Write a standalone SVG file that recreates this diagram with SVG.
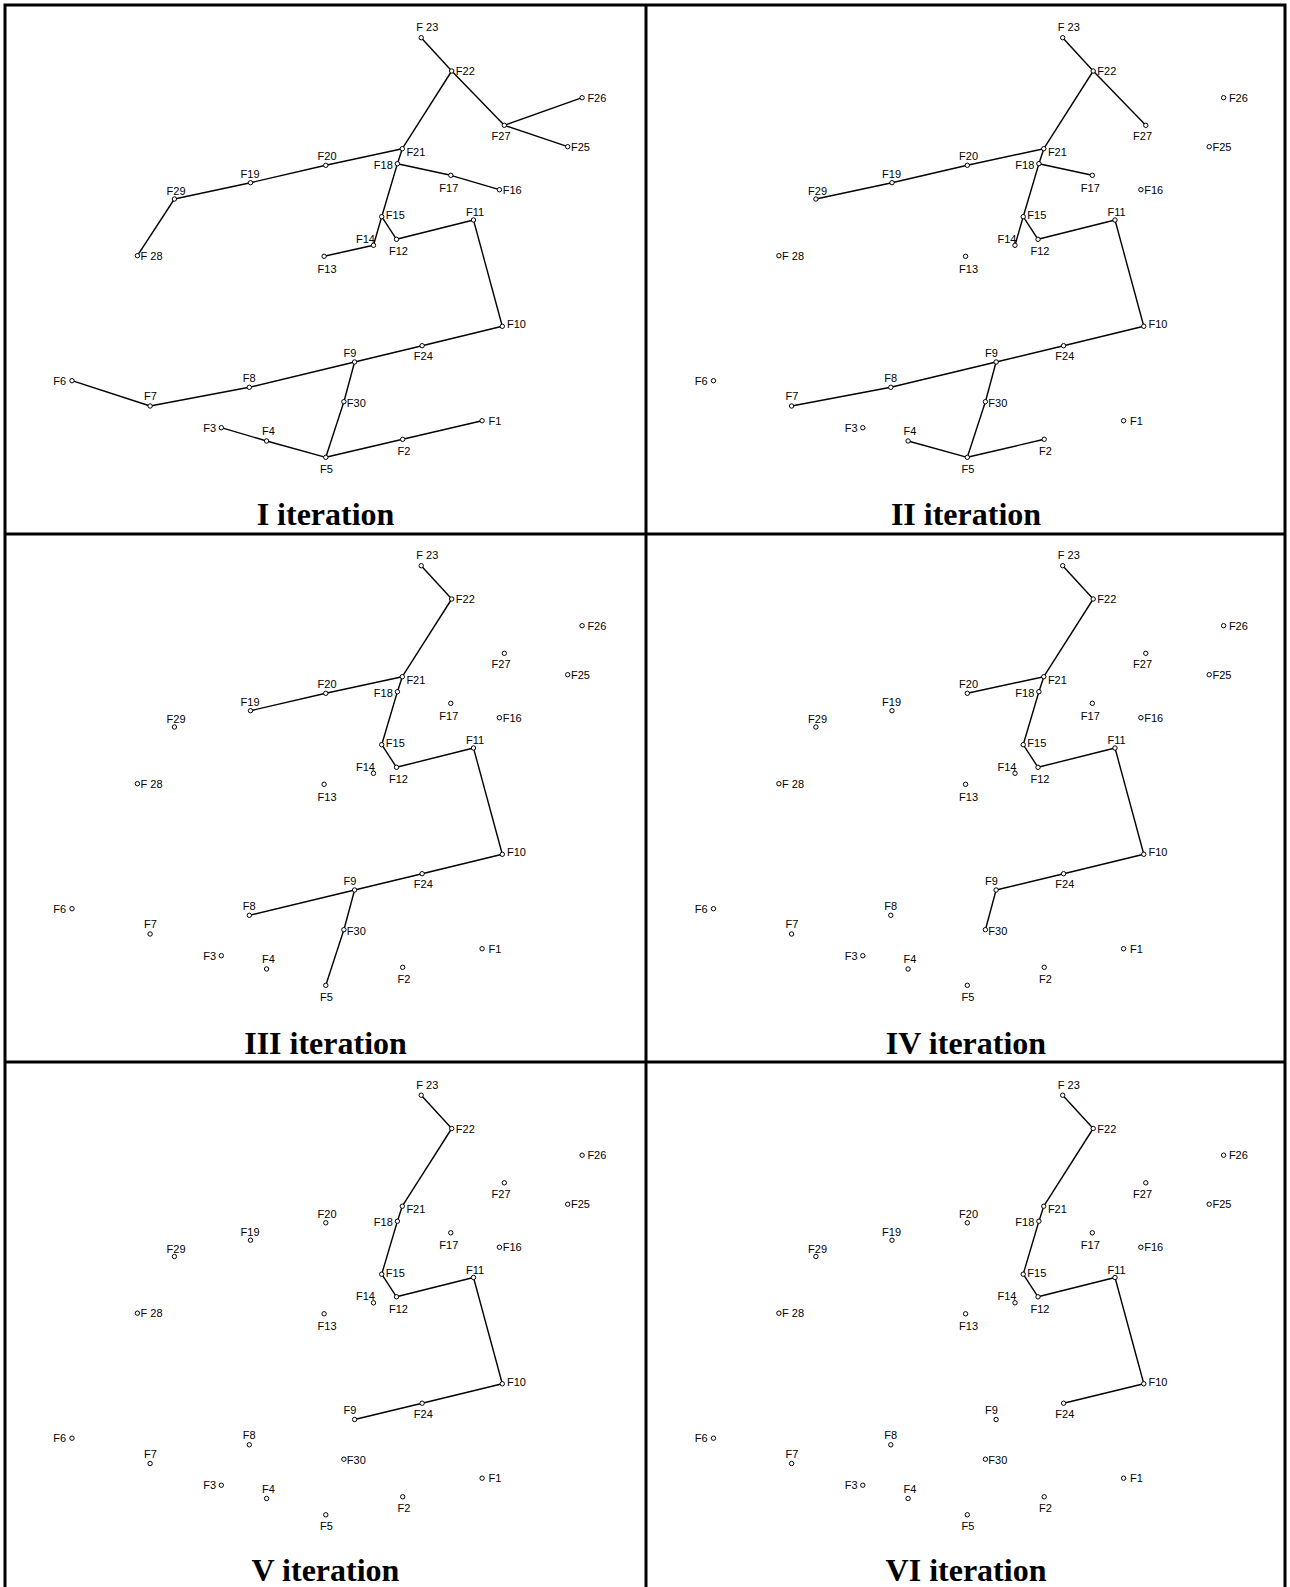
<svg xmlns="http://www.w3.org/2000/svg" width="1290" height="1587" viewBox="0 0 1290 1587">
<style>
.bg{fill:#fff}
.frame{fill:none;stroke:#000;stroke-width:3}
.n circle{fill:#fff;stroke:#000;stroke-width:1}
.n text{font-family:"Liberation Sans",Arial,sans-serif;font-size:11px;fill:#000}
.n text.l{text-anchor:end}
.c path{fill:none;stroke:#000;stroke-width:1.4}
.title{font-family:"Liberation Serif","Times New Roman",serif;font-weight:bold;font-size:32px;text-anchor:middle;fill:#000}
</style>
<rect class="bg" x="0" y="0" width="1290" height="1587"/>
<g id="frame">
<path class="frame" d="M5 1590V5H1285V1590"/>
<path class="frame" d="M646 5V1590"/>
<path class="frame" d="M5 534H1285"/>
<path class="frame" d="M5 1062H1285"/>
</g>

<!-- Panel I -->
<g id="panel-1">
<g id="p1-connectors" class="c">
<path d="M421.2 37.7L451.7 71"/>
<path d="M451.7 71L504.3 125.3"/>
<path d="M504.3 125.3L582.1 97.7"/>
<path d="M504.3 125.3L567.7 146.7"/>
<path d="M451.7 71L402.3 148.7"/>
<path d="M402.3 148.7L325.8 165.3"/>
<path d="M325.8 165.3L250.5 182.7"/>
<path d="M250.5 182.7L174.4 199"/>
<path d="M174.4 199L137.4 255.7"/>
<path d="M402.3 148.7L397.4 163.7"/>
<path d="M397.4 163.7L450.8 175.3"/>
<path d="M450.8 175.3L499.4 189.7"/>
<path d="M397.4 163.7L381.7 216.7"/>
<path d="M381.7 216.7L373.5 245.3"/>
<path d="M373.5 245.3L324.1 256.3"/>
<path d="M381.7 216.7L396.5 239.3"/>
<path d="M396.5 239.3L473.5 220"/>
<path d="M473.5 220L502.3 326.3"/>
<path d="M502.3 326.3L422.1 345.7"/>
<path d="M422.1 345.7L354.6 362"/>
<path d="M354.6 362L249.3 387.3"/>
<path d="M249.3 387.3L150.1 406"/>
<path d="M150.1 406L72 380.7"/>
<path d="M354.6 362L343.9 401.7"/>
<path d="M343.9 401.7L325.8 457.3"/>
<path d="M325.8 457.3L266.6 441"/>
<path d="M266.6 441L221.3 427.7"/>
<path d="M325.8 457.3L402.7 439.3"/>
<path d="M402.7 439.3L482.1 420.7"/>
</g>
<g id="p1-F1" class="n"><circle cx="482.1" cy="420.7" r="2.2"/><text x="488.5" y="424.5">F1</text></g>
<g id="p1-F2" class="n"><circle cx="402.7" cy="439.3" r="2.2"/><text x="397.5" y="454.5">F2</text></g>
<g id="p1-F3" class="n"><circle cx="221.3" cy="427.7" r="2.2"/><text class="l" x="216" y="431.5">F3</text></g>
<g id="p1-F4" class="n"><circle cx="266.6" cy="441" r="2.2"/><text x="262" y="435">F4</text></g>
<g id="p1-F5" class="n"><circle cx="325.8" cy="457.3" r="2.2"/><text x="320" y="472.5">F5</text></g>
<g id="p1-F6" class="n"><circle cx="72" cy="380.7" r="2.2"/><text class="l" x="66" y="384.5">F6</text></g>
<g id="p1-F7" class="n"><circle cx="150.1" cy="406" r="2.2"/><text x="144" y="400">F7</text></g>
<g id="p1-F8" class="n"><circle cx="249.3" cy="387.3" r="2.2"/><text x="242.7" y="381.7">F8</text></g>
<g id="p1-F9" class="n"><circle cx="354.6" cy="362" r="2.2"/><text x="343.5" y="356.7">F9</text></g>
<g id="p1-F10" class="n"><circle cx="502.3" cy="326.3" r="2.2"/><text x="507" y="328">F10</text></g>
<g id="p1-F11" class="n"><circle cx="473.5" cy="220" r="2.2"/><text x="466" y="216">F11</text></g>
<g id="p1-F12" class="n"><circle cx="396.5" cy="239.3" r="2.2"/><text x="389" y="255">F12</text></g>
<g id="p1-F13" class="n"><circle cx="324.1" cy="256.3" r="2.2"/><text x="317.6" y="272.7">F13</text></g>
<g id="p1-F14" class="n"><circle cx="373.5" cy="245.3" r="2.2"/><text x="356" y="242.5">F14</text></g>
<g id="p1-F15" class="n"><circle cx="381.7" cy="216.7" r="2.2"/><text x="385.8" y="219">F15</text></g>
<g id="p1-F16" class="n"><circle cx="499.4" cy="189.7" r="2.2"/><text x="502.7" y="193.5">F16</text></g>
<g id="p1-F17" class="n"><circle cx="450.8" cy="175.3" r="2.2"/><text x="439.3" y="191.5">F17</text></g>
<g id="p1-F18" class="n"><circle cx="397.4" cy="163.7" r="2.2"/><text class="l" x="392.8" y="168.5">F18</text></g>
<g id="p1-F19" class="n"><circle cx="250.5" cy="182.7" r="2.2"/><text x="240.6" y="178">F19</text></g>
<g id="p1-F20" class="n"><circle cx="325.8" cy="165.3" r="2.2"/><text x="317.6" y="160">F20</text></g>
<g id="p1-F21" class="n"><circle cx="402.3" cy="148.7" r="2.2"/><text x="406.4" y="155.5">F21</text></g>
<g id="p1-F22" class="n"><circle cx="451.7" cy="71" r="2.2"/><text x="455.8" y="75">F22</text></g>
<g id="p1-F23" class="n"><circle cx="421.2" cy="37.7" r="2.2"/><text x="416.3" y="31">F 23</text></g>
<g id="p1-F24" class="n"><circle cx="422.1" cy="345.7" r="2.2"/><text x="413.8" y="360">F24</text></g>
<g id="p1-F25" class="n"><circle cx="567.7" cy="146.7" r="2.2"/><text x="571" y="150.5">F25</text></g>
<g id="p1-F26" class="n"><circle cx="582.1" cy="97.7" r="2.2"/><text x="587.4" y="101.5">F26</text></g>
<g id="p1-F27" class="n"><circle cx="504.3" cy="125.3" r="2.2"/><text x="491.6" y="140">F27</text></g>
<g id="p1-F28" class="n"><circle cx="137.4" cy="255.7" r="2.2"/><text x="140.5" y="259.5">F 28</text></g>
<g id="p1-F29" class="n"><circle cx="174.4" cy="199" r="2.2"/><text x="166.6" y="195">F29</text></g>
<g id="p1-F30" class="n"><circle cx="343.9" cy="401.7" r="2.2"/><text x="346.8" y="406.5">F30</text></g>
</g>
<text class="title" x="325.5" y="525">I iteration</text>

<!-- Panel II -->
<g id="panel-2" transform="translate(641.5,0)">
<g id="p2-connectors" class="c">
<path d="M421.2 37.7L451.7 71"/>
<path d="M451.7 71L504.3 125.3"/>
<path d="M451.7 71L402.3 148.7"/>
<path d="M402.3 148.7L325.8 165.3"/>
<path d="M325.8 165.3L250.5 182.7"/>
<path d="M250.5 182.7L174.4 199"/>
<path d="M402.3 148.7L397.4 163.7"/>
<path d="M397.4 163.7L450.8 175.3"/>
<path d="M397.4 163.7L381.7 216.7"/>
<path d="M381.7 216.7L373.5 245.3"/>
<path d="M381.7 216.7L396.5 239.3"/>
<path d="M396.5 239.3L473.5 220"/>
<path d="M473.5 220L502.3 326.3"/>
<path d="M502.3 326.3L422.1 345.7"/>
<path d="M422.1 345.7L354.6 362"/>
<path d="M354.6 362L249.3 387.3"/>
<path d="M249.3 387.3L150.1 406"/>
<path d="M354.6 362L343.9 401.7"/>
<path d="M343.9 401.7L325.8 457.3"/>
<path d="M325.8 457.3L266.6 441"/>
<path d="M325.8 457.3L402.7 439.3"/>
</g>
<g id="p2-F1" class="n"><circle cx="482.1" cy="420.7" r="2.2"/><text x="488.5" y="424.5">F1</text></g>
<g id="p2-F2" class="n"><circle cx="402.7" cy="439.3" r="2.2"/><text x="397.5" y="454.5">F2</text></g>
<g id="p2-F3" class="n"><circle cx="221.3" cy="427.7" r="2.2"/><text class="l" x="216" y="431.5">F3</text></g>
<g id="p2-F4" class="n"><circle cx="266.6" cy="441" r="2.2"/><text x="262" y="435">F4</text></g>
<g id="p2-F5" class="n"><circle cx="325.8" cy="457.3" r="2.2"/><text x="320" y="472.5">F5</text></g>
<g id="p2-F6" class="n"><circle cx="72" cy="380.7" r="2.2"/><text class="l" x="66" y="384.5">F6</text></g>
<g id="p2-F7" class="n"><circle cx="150.1" cy="406" r="2.2"/><text x="144" y="400">F7</text></g>
<g id="p2-F8" class="n"><circle cx="249.3" cy="387.3" r="2.2"/><text x="242.7" y="381.7">F8</text></g>
<g id="p2-F9" class="n"><circle cx="354.6" cy="362" r="2.2"/><text x="343.5" y="356.7">F9</text></g>
<g id="p2-F10" class="n"><circle cx="502.3" cy="326.3" r="2.2"/><text x="507" y="328">F10</text></g>
<g id="p2-F11" class="n"><circle cx="473.5" cy="220" r="2.2"/><text x="466" y="216">F11</text></g>
<g id="p2-F12" class="n"><circle cx="396.5" cy="239.3" r="2.2"/><text x="389" y="255">F12</text></g>
<g id="p2-F13" class="n"><circle cx="324.1" cy="256.3" r="2.2"/><text x="317.6" y="272.7">F13</text></g>
<g id="p2-F14" class="n"><circle cx="373.5" cy="245.3" r="2.2"/><text x="356" y="242.5">F14</text></g>
<g id="p2-F15" class="n"><circle cx="381.7" cy="216.7" r="2.2"/><text x="385.8" y="219">F15</text></g>
<g id="p2-F16" class="n"><circle cx="499.4" cy="189.7" r="2.2"/><text x="502.7" y="193.5">F16</text></g>
<g id="p2-F17" class="n"><circle cx="450.8" cy="175.3" r="2.2"/><text x="439.3" y="191.5">F17</text></g>
<g id="p2-F18" class="n"><circle cx="397.4" cy="163.7" r="2.2"/><text class="l" x="392.8" y="168.5">F18</text></g>
<g id="p2-F19" class="n"><circle cx="250.5" cy="182.7" r="2.2"/><text x="240.6" y="178">F19</text></g>
<g id="p2-F20" class="n"><circle cx="325.8" cy="165.3" r="2.2"/><text x="317.6" y="160">F20</text></g>
<g id="p2-F21" class="n"><circle cx="402.3" cy="148.7" r="2.2"/><text x="406.4" y="155.5">F21</text></g>
<g id="p2-F22" class="n"><circle cx="451.7" cy="71" r="2.2"/><text x="455.8" y="75">F22</text></g>
<g id="p2-F23" class="n"><circle cx="421.2" cy="37.7" r="2.2"/><text x="416.3" y="31">F 23</text></g>
<g id="p2-F24" class="n"><circle cx="422.1" cy="345.7" r="2.2"/><text x="413.8" y="360">F24</text></g>
<g id="p2-F25" class="n"><circle cx="567.7" cy="146.7" r="2.2"/><text x="571" y="150.5">F25</text></g>
<g id="p2-F26" class="n"><circle cx="582.1" cy="97.7" r="2.2"/><text x="587.4" y="101.5">F26</text></g>
<g id="p2-F27" class="n"><circle cx="504.3" cy="125.3" r="2.2"/><text x="491.6" y="140">F27</text></g>
<g id="p2-F28" class="n"><circle cx="137.4" cy="255.7" r="2.2"/><text x="140.5" y="259.5">F 28</text></g>
<g id="p2-F29" class="n"><circle cx="174.4" cy="199" r="2.2"/><text x="166.6" y="195">F29</text></g>
<g id="p2-F30" class="n"><circle cx="343.9" cy="401.7" r="2.2"/><text x="346.8" y="406.5">F30</text></g>
</g>
<text class="title" x="966" y="525">II iteration</text>

<!-- Panel III -->
<g id="panel-3" transform="translate(0,528)">
<g id="p3-connectors" class="c">
<path d="M421.2 37.7L451.7 71"/>
<path d="M451.7 71L402.3 148.7"/>
<path d="M402.3 148.7L325.8 165.3"/>
<path d="M325.8 165.3L250.5 182.7"/>
<path d="M402.3 148.7L397.4 163.7"/>
<path d="M397.4 163.7L381.7 216.7"/>
<path d="M381.7 216.7L396.5 239.3"/>
<path d="M396.5 239.3L473.5 220"/>
<path d="M473.5 220L502.3 326.3"/>
<path d="M502.3 326.3L422.1 345.7"/>
<path d="M422.1 345.7L354.6 362"/>
<path d="M354.6 362L249.3 387.3"/>
<path d="M354.6 362L343.9 401.7"/>
<path d="M343.9 401.7L325.8 457.3"/>
</g>
<g id="p3-F1" class="n"><circle cx="482.1" cy="420.7" r="2.2"/><text x="488.5" y="424.5">F1</text></g>
<g id="p3-F2" class="n"><circle cx="402.7" cy="439.3" r="2.2"/><text x="397.5" y="454.5">F2</text></g>
<g id="p3-F3" class="n"><circle cx="221.3" cy="427.7" r="2.2"/><text class="l" x="216" y="431.5">F3</text></g>
<g id="p3-F4" class="n"><circle cx="266.6" cy="441" r="2.2"/><text x="262" y="435">F4</text></g>
<g id="p3-F5" class="n"><circle cx="325.8" cy="457.3" r="2.2"/><text x="320" y="472.5">F5</text></g>
<g id="p3-F6" class="n"><circle cx="72" cy="380.7" r="2.2"/><text class="l" x="66" y="384.5">F6</text></g>
<g id="p3-F7" class="n"><circle cx="150.1" cy="406" r="2.2"/><text x="144" y="400">F7</text></g>
<g id="p3-F8" class="n"><circle cx="249.3" cy="387.3" r="2.2"/><text x="242.7" y="381.7">F8</text></g>
<g id="p3-F9" class="n"><circle cx="354.6" cy="362" r="2.2"/><text x="343.5" y="356.7">F9</text></g>
<g id="p3-F10" class="n"><circle cx="502.3" cy="326.3" r="2.2"/><text x="507" y="328">F10</text></g>
<g id="p3-F11" class="n"><circle cx="473.5" cy="220" r="2.2"/><text x="466" y="216">F11</text></g>
<g id="p3-F12" class="n"><circle cx="396.5" cy="239.3" r="2.2"/><text x="389" y="255">F12</text></g>
<g id="p3-F13" class="n"><circle cx="324.1" cy="256.3" r="2.2"/><text x="317.6" y="272.7">F13</text></g>
<g id="p3-F14" class="n"><circle cx="373.5" cy="245.3" r="2.2"/><text x="356" y="242.5">F14</text></g>
<g id="p3-F15" class="n"><circle cx="381.7" cy="216.7" r="2.2"/><text x="385.8" y="219">F15</text></g>
<g id="p3-F16" class="n"><circle cx="499.4" cy="189.7" r="2.2"/><text x="502.7" y="193.5">F16</text></g>
<g id="p3-F17" class="n"><circle cx="450.8" cy="175.3" r="2.2"/><text x="439.3" y="191.5">F17</text></g>
<g id="p3-F18" class="n"><circle cx="397.4" cy="163.7" r="2.2"/><text class="l" x="392.8" y="168.5">F18</text></g>
<g id="p3-F19" class="n"><circle cx="250.5" cy="182.7" r="2.2"/><text x="240.6" y="178">F19</text></g>
<g id="p3-F20" class="n"><circle cx="325.8" cy="165.3" r="2.2"/><text x="317.6" y="160">F20</text></g>
<g id="p3-F21" class="n"><circle cx="402.3" cy="148.7" r="2.2"/><text x="406.4" y="155.5">F21</text></g>
<g id="p3-F22" class="n"><circle cx="451.7" cy="71" r="2.2"/><text x="455.8" y="75">F22</text></g>
<g id="p3-F23" class="n"><circle cx="421.2" cy="37.7" r="2.2"/><text x="416.3" y="31">F 23</text></g>
<g id="p3-F24" class="n"><circle cx="422.1" cy="345.7" r="2.2"/><text x="413.8" y="360">F24</text></g>
<g id="p3-F25" class="n"><circle cx="567.7" cy="146.7" r="2.2"/><text x="571" y="150.5">F25</text></g>
<g id="p3-F26" class="n"><circle cx="582.1" cy="97.7" r="2.2"/><text x="587.4" y="101.5">F26</text></g>
<g id="p3-F27" class="n"><circle cx="504.3" cy="125.3" r="2.2"/><text x="491.6" y="140">F27</text></g>
<g id="p3-F28" class="n"><circle cx="137.4" cy="255.7" r="2.2"/><text x="140.5" y="259.5">F 28</text></g>
<g id="p3-F29" class="n"><circle cx="174.4" cy="199" r="2.2"/><text x="166.6" y="195">F29</text></g>
<g id="p3-F30" class="n"><circle cx="343.9" cy="401.7" r="2.2"/><text x="346.8" y="406.5">F30</text></g>
</g>
<text class="title" x="325.5" y="1054">III iteration</text>

<!-- Panel IV -->
<g id="panel-4" transform="translate(641.5,528)">
<g id="p4-connectors" class="c">
<path d="M421.2 37.7L451.7 71"/>
<path d="M451.7 71L402.3 148.7"/>
<path d="M402.3 148.7L325.8 165.3"/>
<path d="M402.3 148.7L397.4 163.7"/>
<path d="M397.4 163.7L381.7 216.7"/>
<path d="M381.7 216.7L396.5 239.3"/>
<path d="M396.5 239.3L473.5 220"/>
<path d="M473.5 220L502.3 326.3"/>
<path d="M502.3 326.3L422.1 345.7"/>
<path d="M422.1 345.7L354.6 362"/>
<path d="M354.6 362L343.9 401.7"/>
</g>
<g id="p4-F1" class="n"><circle cx="482.1" cy="420.7" r="2.2"/><text x="488.5" y="424.5">F1</text></g>
<g id="p4-F2" class="n"><circle cx="402.7" cy="439.3" r="2.2"/><text x="397.5" y="454.5">F2</text></g>
<g id="p4-F3" class="n"><circle cx="221.3" cy="427.7" r="2.2"/><text class="l" x="216" y="431.5">F3</text></g>
<g id="p4-F4" class="n"><circle cx="266.6" cy="441" r="2.2"/><text x="262" y="435">F4</text></g>
<g id="p4-F5" class="n"><circle cx="325.8" cy="457.3" r="2.2"/><text x="320" y="472.5">F5</text></g>
<g id="p4-F6" class="n"><circle cx="72" cy="380.7" r="2.2"/><text class="l" x="66" y="384.5">F6</text></g>
<g id="p4-F7" class="n"><circle cx="150.1" cy="406" r="2.2"/><text x="144" y="400">F7</text></g>
<g id="p4-F8" class="n"><circle cx="249.3" cy="387.3" r="2.2"/><text x="242.7" y="381.7">F8</text></g>
<g id="p4-F9" class="n"><circle cx="354.6" cy="362" r="2.2"/><text x="343.5" y="356.7">F9</text></g>
<g id="p4-F10" class="n"><circle cx="502.3" cy="326.3" r="2.2"/><text x="507" y="328">F10</text></g>
<g id="p4-F11" class="n"><circle cx="473.5" cy="220" r="2.2"/><text x="466" y="216">F11</text></g>
<g id="p4-F12" class="n"><circle cx="396.5" cy="239.3" r="2.2"/><text x="389" y="255">F12</text></g>
<g id="p4-F13" class="n"><circle cx="324.1" cy="256.3" r="2.2"/><text x="317.6" y="272.7">F13</text></g>
<g id="p4-F14" class="n"><circle cx="373.5" cy="245.3" r="2.2"/><text x="356" y="242.5">F14</text></g>
<g id="p4-F15" class="n"><circle cx="381.7" cy="216.7" r="2.2"/><text x="385.8" y="219">F15</text></g>
<g id="p4-F16" class="n"><circle cx="499.4" cy="189.7" r="2.2"/><text x="502.7" y="193.5">F16</text></g>
<g id="p4-F17" class="n"><circle cx="450.8" cy="175.3" r="2.2"/><text x="439.3" y="191.5">F17</text></g>
<g id="p4-F18" class="n"><circle cx="397.4" cy="163.7" r="2.2"/><text class="l" x="392.8" y="168.5">F18</text></g>
<g id="p4-F19" class="n"><circle cx="250.5" cy="182.7" r="2.2"/><text x="240.6" y="178">F19</text></g>
<g id="p4-F20" class="n"><circle cx="325.8" cy="165.3" r="2.2"/><text x="317.6" y="160">F20</text></g>
<g id="p4-F21" class="n"><circle cx="402.3" cy="148.7" r="2.2"/><text x="406.4" y="155.5">F21</text></g>
<g id="p4-F22" class="n"><circle cx="451.7" cy="71" r="2.2"/><text x="455.8" y="75">F22</text></g>
<g id="p4-F23" class="n"><circle cx="421.2" cy="37.7" r="2.2"/><text x="416.3" y="31">F 23</text></g>
<g id="p4-F24" class="n"><circle cx="422.1" cy="345.7" r="2.2"/><text x="413.8" y="360">F24</text></g>
<g id="p4-F25" class="n"><circle cx="567.7" cy="146.7" r="2.2"/><text x="571" y="150.5">F25</text></g>
<g id="p4-F26" class="n"><circle cx="582.1" cy="97.7" r="2.2"/><text x="587.4" y="101.5">F26</text></g>
<g id="p4-F27" class="n"><circle cx="504.3" cy="125.3" r="2.2"/><text x="491.6" y="140">F27</text></g>
<g id="p4-F28" class="n"><circle cx="137.4" cy="255.7" r="2.2"/><text x="140.5" y="259.5">F 28</text></g>
<g id="p4-F29" class="n"><circle cx="174.4" cy="199" r="2.2"/><text x="166.6" y="195">F29</text></g>
<g id="p4-F30" class="n"><circle cx="343.9" cy="401.7" r="2.2"/><text x="346.8" y="406.5">F30</text></g>
</g>
<text class="title" x="966" y="1054">IV iteration</text>

<!-- Panel V -->
<g id="panel-5" transform="translate(0,1057.5)">
<g id="p5-connectors" class="c">
<path d="M421.2 37.7L451.7 71"/>
<path d="M451.7 71L402.3 148.7"/>
<path d="M402.3 148.7L397.4 163.7"/>
<path d="M397.4 163.7L381.7 216.7"/>
<path d="M381.7 216.7L396.5 239.3"/>
<path d="M396.5 239.3L473.5 220"/>
<path d="M473.5 220L502.3 326.3"/>
<path d="M502.3 326.3L422.1 345.7"/>
<path d="M422.1 345.7L354.6 362"/>
</g>
<g id="p5-F1" class="n"><circle cx="482.1" cy="420.7" r="2.2"/><text x="488.5" y="424.5">F1</text></g>
<g id="p5-F2" class="n"><circle cx="402.7" cy="439.3" r="2.2"/><text x="397.5" y="454.5">F2</text></g>
<g id="p5-F3" class="n"><circle cx="221.3" cy="427.7" r="2.2"/><text class="l" x="216" y="431.5">F3</text></g>
<g id="p5-F4" class="n"><circle cx="266.6" cy="441" r="2.2"/><text x="262" y="435">F4</text></g>
<g id="p5-F5" class="n"><circle cx="325.8" cy="457.3" r="2.2"/><text x="320" y="472.5">F5</text></g>
<g id="p5-F6" class="n"><circle cx="72" cy="380.7" r="2.2"/><text class="l" x="66" y="384.5">F6</text></g>
<g id="p5-F7" class="n"><circle cx="150.1" cy="406" r="2.2"/><text x="144" y="400">F7</text></g>
<g id="p5-F8" class="n"><circle cx="249.3" cy="387.3" r="2.2"/><text x="242.7" y="381.7">F8</text></g>
<g id="p5-F9" class="n"><circle cx="354.6" cy="362" r="2.2"/><text x="343.5" y="356.7">F9</text></g>
<g id="p5-F10" class="n"><circle cx="502.3" cy="326.3" r="2.2"/><text x="507" y="328">F10</text></g>
<g id="p5-F11" class="n"><circle cx="473.5" cy="220" r="2.2"/><text x="466" y="216">F11</text></g>
<g id="p5-F12" class="n"><circle cx="396.5" cy="239.3" r="2.2"/><text x="389" y="255">F12</text></g>
<g id="p5-F13" class="n"><circle cx="324.1" cy="256.3" r="2.2"/><text x="317.6" y="272.7">F13</text></g>
<g id="p5-F14" class="n"><circle cx="373.5" cy="245.3" r="2.2"/><text x="356" y="242.5">F14</text></g>
<g id="p5-F15" class="n"><circle cx="381.7" cy="216.7" r="2.2"/><text x="385.8" y="219">F15</text></g>
<g id="p5-F16" class="n"><circle cx="499.4" cy="189.7" r="2.2"/><text x="502.7" y="193.5">F16</text></g>
<g id="p5-F17" class="n"><circle cx="450.8" cy="175.3" r="2.2"/><text x="439.3" y="191.5">F17</text></g>
<g id="p5-F18" class="n"><circle cx="397.4" cy="163.7" r="2.2"/><text class="l" x="392.8" y="168.5">F18</text></g>
<g id="p5-F19" class="n"><circle cx="250.5" cy="182.7" r="2.2"/><text x="240.6" y="178">F19</text></g>
<g id="p5-F20" class="n"><circle cx="325.8" cy="165.3" r="2.2"/><text x="317.6" y="160">F20</text></g>
<g id="p5-F21" class="n"><circle cx="402.3" cy="148.7" r="2.2"/><text x="406.4" y="155.5">F21</text></g>
<g id="p5-F22" class="n"><circle cx="451.7" cy="71" r="2.2"/><text x="455.8" y="75">F22</text></g>
<g id="p5-F23" class="n"><circle cx="421.2" cy="37.7" r="2.2"/><text x="416.3" y="31">F 23</text></g>
<g id="p5-F24" class="n"><circle cx="422.1" cy="345.7" r="2.2"/><text x="413.8" y="360">F24</text></g>
<g id="p5-F25" class="n"><circle cx="567.7" cy="146.7" r="2.2"/><text x="571" y="150.5">F25</text></g>
<g id="p5-F26" class="n"><circle cx="582.1" cy="97.7" r="2.2"/><text x="587.4" y="101.5">F26</text></g>
<g id="p5-F27" class="n"><circle cx="504.3" cy="125.3" r="2.2"/><text x="491.6" y="140">F27</text></g>
<g id="p5-F28" class="n"><circle cx="137.4" cy="255.7" r="2.2"/><text x="140.5" y="259.5">F 28</text></g>
<g id="p5-F29" class="n"><circle cx="174.4" cy="199" r="2.2"/><text x="166.6" y="195">F29</text></g>
<g id="p5-F30" class="n"><circle cx="343.9" cy="401.7" r="2.2"/><text x="346.8" y="406.5">F30</text></g>
</g>
<text class="title" x="325.5" y="1581">V iteration</text>

<!-- Panel VI -->
<g id="panel-6" transform="translate(641.5,1057.5)">
<g id="p6-connectors" class="c">
<path d="M421.2 37.7L451.7 71"/>
<path d="M451.7 71L402.3 148.7"/>
<path d="M402.3 148.7L397.4 163.7"/>
<path d="M397.4 163.7L381.7 216.7"/>
<path d="M381.7 216.7L396.5 239.3"/>
<path d="M396.5 239.3L473.5 220"/>
<path d="M473.5 220L502.3 326.3"/>
<path d="M502.3 326.3L422.1 345.7"/>
</g>
<g id="p6-F1" class="n"><circle cx="482.1" cy="420.7" r="2.2"/><text x="488.5" y="424.5">F1</text></g>
<g id="p6-F2" class="n"><circle cx="402.7" cy="439.3" r="2.2"/><text x="397.5" y="454.5">F2</text></g>
<g id="p6-F3" class="n"><circle cx="221.3" cy="427.7" r="2.2"/><text class="l" x="216" y="431.5">F3</text></g>
<g id="p6-F4" class="n"><circle cx="266.6" cy="441" r="2.2"/><text x="262" y="435">F4</text></g>
<g id="p6-F5" class="n"><circle cx="325.8" cy="457.3" r="2.2"/><text x="320" y="472.5">F5</text></g>
<g id="p6-F6" class="n"><circle cx="72" cy="380.7" r="2.2"/><text class="l" x="66" y="384.5">F6</text></g>
<g id="p6-F7" class="n"><circle cx="150.1" cy="406" r="2.2"/><text x="144" y="400">F7</text></g>
<g id="p6-F8" class="n"><circle cx="249.3" cy="387.3" r="2.2"/><text x="242.7" y="381.7">F8</text></g>
<g id="p6-F9" class="n"><circle cx="354.6" cy="362" r="2.2"/><text x="343.5" y="356.7">F9</text></g>
<g id="p6-F10" class="n"><circle cx="502.3" cy="326.3" r="2.2"/><text x="507" y="328">F10</text></g>
<g id="p6-F11" class="n"><circle cx="473.5" cy="220" r="2.2"/><text x="466" y="216">F11</text></g>
<g id="p6-F12" class="n"><circle cx="396.5" cy="239.3" r="2.2"/><text x="389" y="255">F12</text></g>
<g id="p6-F13" class="n"><circle cx="324.1" cy="256.3" r="2.2"/><text x="317.6" y="272.7">F13</text></g>
<g id="p6-F14" class="n"><circle cx="373.5" cy="245.3" r="2.2"/><text x="356" y="242.5">F14</text></g>
<g id="p6-F15" class="n"><circle cx="381.7" cy="216.7" r="2.2"/><text x="385.8" y="219">F15</text></g>
<g id="p6-F16" class="n"><circle cx="499.4" cy="189.7" r="2.2"/><text x="502.7" y="193.5">F16</text></g>
<g id="p6-F17" class="n"><circle cx="450.8" cy="175.3" r="2.2"/><text x="439.3" y="191.5">F17</text></g>
<g id="p6-F18" class="n"><circle cx="397.4" cy="163.7" r="2.2"/><text class="l" x="392.8" y="168.5">F18</text></g>
<g id="p6-F19" class="n"><circle cx="250.5" cy="182.7" r="2.2"/><text x="240.6" y="178">F19</text></g>
<g id="p6-F20" class="n"><circle cx="325.8" cy="165.3" r="2.2"/><text x="317.6" y="160">F20</text></g>
<g id="p6-F21" class="n"><circle cx="402.3" cy="148.7" r="2.2"/><text x="406.4" y="155.5">F21</text></g>
<g id="p6-F22" class="n"><circle cx="451.7" cy="71" r="2.2"/><text x="455.8" y="75">F22</text></g>
<g id="p6-F23" class="n"><circle cx="421.2" cy="37.7" r="2.2"/><text x="416.3" y="31">F 23</text></g>
<g id="p6-F24" class="n"><circle cx="422.1" cy="345.7" r="2.2"/><text x="413.8" y="360">F24</text></g>
<g id="p6-F25" class="n"><circle cx="567.7" cy="146.7" r="2.2"/><text x="571" y="150.5">F25</text></g>
<g id="p6-F26" class="n"><circle cx="582.1" cy="97.7" r="2.2"/><text x="587.4" y="101.5">F26</text></g>
<g id="p6-F27" class="n"><circle cx="504.3" cy="125.3" r="2.2"/><text x="491.6" y="140">F27</text></g>
<g id="p6-F28" class="n"><circle cx="137.4" cy="255.7" r="2.2"/><text x="140.5" y="259.5">F 28</text></g>
<g id="p6-F29" class="n"><circle cx="174.4" cy="199" r="2.2"/><text x="166.6" y="195">F29</text></g>
<g id="p6-F30" class="n"><circle cx="343.9" cy="401.7" r="2.2"/><text x="346.8" y="406.5">F30</text></g>
</g>
<text class="title" x="966" y="1581">VI iteration</text>
</svg>
